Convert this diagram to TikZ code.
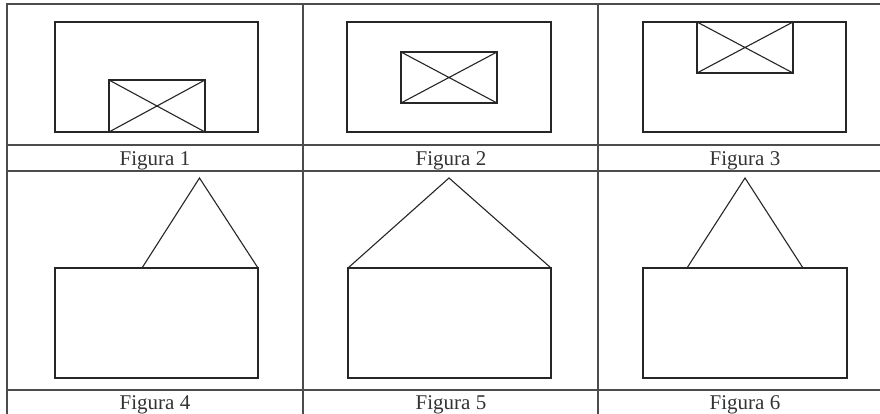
\documentclass[tikz,border=0pt]{standalone}
\usepackage{fontspec}
\setmainfont{Liberation Serif}
\begin{document}
\begin{tikzpicture}[x=1pt,y=-1pt,
  tableline/.style={line width=1.3pt,draw=black!70},
  figline/.style={line width=1.1pt,draw=black!85},
  caption/.style={anchor=base,inner sep=0pt,font=\fontsize{21}{25}\selectfont,text=black!80}]
\fill[white] (0,0) rectangle (880,414);
\useasboundingbox (0,0) rectangle (880,414);
% table grid
\draw[tableline] (7,414) -- (7,4) -- (880,4);
\draw[tableline] (7,145) -- (880,145);
\draw[tableline] (7,171) -- (880,171);
\draw[tableline] (7,390) -- (880,390);
\draw[tableline] (303,4) -- (303,414);
\draw[tableline] (598,4) -- (598,414);
% Figura 1
\draw[figline] (55,22) rectangle (258,132);
\draw[figline] (109,80) rectangle (205,132);
\draw[figline] (109,80) -- (205,132) (109,132) -- (205,80);
% Figura 2
\draw[figline] (347,22) rectangle (551,132);
\draw[figline] (401,52) rectangle (497,103);
\draw[figline] (401,52) -- (497,103) (401,103) -- (497,52);
% Figura 3
\draw[figline] (643,22) rectangle (846,132);
\draw[figline] (697,22) rectangle (793,73);
\draw[figline] (697,22) -- (793,73) (697,73) -- (793,22);
% Figura 4
\draw[figline] (55,268) rectangle (258,378);
\draw[figline,line join=miter] (142,268) -- (199.5,178) -- (258,268);
% Figura 5
\draw[figline] (348,268) rectangle (551,378);
\draw[figline,line join=miter] (348,268) -- (449,178) -- (551,268);
% Figura 6
\draw[figline] (643,268) rectangle (847,378);
\draw[figline,line join=miter] (687,268) -- (745,178) -- (803,268);
% captions
\node[caption] (c1) at (155,166) {Figura 1};
\node[caption] (c2) at (451,166) {Figura 2};
\node[caption] (c3) at (745,166) {Figura 3};
\node[caption] (c4) at (155,409) {Figura 4};
\node[caption] (c5) at (451,409) {Figura 5};
\node[caption] (c6) at (745,409) {Figura 6};
\end{tikzpicture}
\end{document}
